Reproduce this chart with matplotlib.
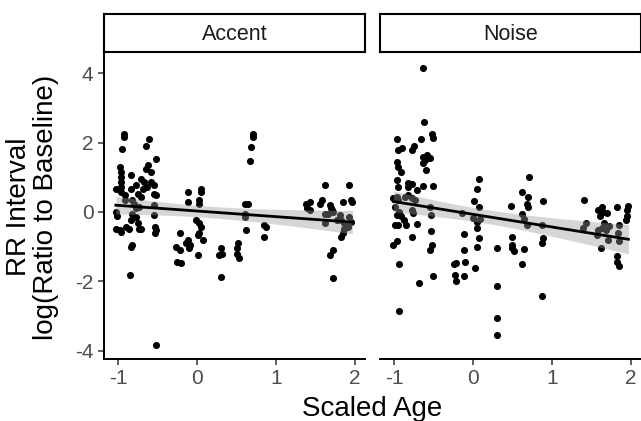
import numpy as np
import matplotlib
matplotlib.use("Agg")
from matplotlib import pyplot as plt

plt.rcParams['font.family'] = ['Liberation Sans', 'DejaVu Sans']
plt.rcParams['axes.unicode_minus'] = False

# Accent panel (scaled age, log RR ratio)
accent_x = [-0.93, -0.93, -0.95, -0.98, -0.97, -0.97, -0.97, -0.97, -0.96, -1.03,
            -1.03, -1.02, -1.03, -0.98, -0.96, -0.91, -0.91, -0.84, -0.84, -0.82,
            -0.80, -0.82, -0.84, -0.86, -0.82, -0.84, -0.85, -0.90, -0.78, -0.75,
            -0.77, -0.75, -0.73, -0.71, -0.71, -0.67, -0.69, -0.71, -0.65, -0.62,
            -0.58, -0.65, -0.61, -0.63, -0.58, -0.54, -0.52, -0.54, -0.52, -0.55,
            -0.54, -0.53, -0.52, -0.53, -0.52, -0.73, -0.77,
            -0.22, -0.27, -0.22, -0.25, -0.20, -0.11, -0.12, -0.11, -0.09, -0.14,
            -0.10, 0.01, 0.03, 0.05, 0.05, 0.02, -0.01, 0.03, 0.05, 0.03,
            0.01, 0.07, 0.30, 0.32, 0.28, 0.30, 0.52, 0.51, 0.51, 0.53,
            0.61, 0.64, 0.61, 0.61, 0.62, 0.71, 0.71, 0.69, 0.67, 0.85,
            0.88, 0.85,
            1.38, 1.43, 1.40, 1.43, 1.62, 1.59, 1.56, 1.62, 1.62, 1.68,
            1.70, 1.71, 1.72, 1.66, 1.68, 1.72, 1.72, 1.78, 1.81, 1.83,
            1.83, 1.85, 1.87, 1.85, 1.93, 1.95, 1.97, 1.93, 1.95, 1.91, 1.87]
accent_y = [2.25, 2.17, 1.82, 1.29, 1.15, 1.00, 0.86, 0.72, 0.57, 0.67,
            0.00, -0.12, -0.48, -0.53, -0.57, 0.33, 0.48, 1.05, 0.67, 0.33,
            0.24, -0.05, -0.24, -0.48, -0.96, -1.00, -1.82, -0.43, 0.77, 0.53,
            -0.14, -0.33, -0.48, -0.48, 0.96, 0.86, 0.67, 0.43, 1.24, 1.34,
            1.15, 1.91, 2.11, 0.72, 0.86, 0.77, 1.53, 0.53, 0.48, 0.19,
            -0.10, -0.43, -0.53, -0.62, -3.83, 0.14, 0.10,
            -0.62, -1.00, -1.10, -1.44, -1.48, 0.57, 0.29, -0.81, -0.96, -0.91,
            -1.05, -1.24, 0.33, 0.57, 0.67, 0.24, -0.24, -0.33, -0.43, -0.62,
            -0.67, -0.81, -1.05, -1.20, -1.24, -1.87, -0.91, -1.05, -1.20, -1.34,
            0.24, 0.24, -0.05, -0.14, -0.53, 2.25, 2.15, 1.87, 1.46, -0.38,
            -0.43, -0.72,
            0.24, 0.29, 0.10, 0.05, 0.77, 0.33, 0.24, -0.05, -0.33, 0.19,
            0.10, 0.05, 0.00, -0.05, -1.24, -1.10, -1.91, -0.24, -0.10, -0.24,
            -0.72, -0.62, -0.48, 0.29, 0.77, 0.33, 0.29, -0.14, -0.29, -0.43, -0.33]

# Noise panel
noise_x = [-0.63, -0.62, -0.52, -0.51, -0.66, -0.97, -0.95, -0.90, -0.78, -0.75,
           -0.97, -0.95, -0.92, -0.63, -0.59, -0.54, -0.61, -0.63, -0.60, -0.96,
           -0.95, -0.82, -0.78, -0.82, -0.71, -0.63, -0.51, -1.01, -0.97, -0.95,
           -0.86, -0.82, -0.78, -0.74, -0.99, -0.94, -0.97, -0.92, -0.88, -0.99,
           -0.95, -0.85, -0.78, -0.76, -0.71, -0.54, -0.53, -0.53, -0.77, -1.01,
           -0.97, -0.52, -0.54, -0.94, -0.69, -0.51, -0.94,
           -0.12, -0.14, -0.11, -0.24, -0.21, -0.23, -0.21, -0.11, -0.10, 0.02,
           0.08, 0.05, 0.01, 0.07, 0.00, 0.05, 0.09, 0.05, 0.07, 0.05,
           0.31, 0.31, 0.30, 0.30, 0.48, 0.50, 0.50, 0.49, 0.52, 0.62,
           0.70, 0.71, 0.68, 0.70, 0.62, 0.64, 0.68, 0.64, 0.62, 0.89,
           0.87, 0.89, 0.87, 0.88,
           1.41, 1.43, 1.40, 1.62, 1.59, 1.63, 1.65, 1.61, 1.70, 1.66,
           1.63, 1.72, 1.69, 1.71, 1.82, 1.85, 1.84, 1.85, 1.82, 1.83,
           1.85, 1.97, 1.95, 1.95, 1.94, 1.59, 1.57]
noise_y = [4.16, 2.59, 2.24, 2.12, 2.10, 2.09, 1.78, 1.83, 1.78, 1.90,
           1.45, 1.30, 1.16, 1.59, 1.64, 1.54, 1.49, 1.40, 1.21, 0.92,
           0.73, 0.84, 0.80, 0.73, 0.63, 0.75, 0.75, 0.39, 0.44, 0.34,
           0.44, 0.49, 0.39, 0.34, 0.15, 0.01, -0.09, -0.13, -0.23, -0.39,
           -0.37, -0.37, 0.06, -0.04, -0.34, 0.15, -0.09, -0.54, -0.71, -0.95,
           -0.85, -0.95, -1.09, -1.49, -2.05, -1.84, -2.86,
           -0.63, -0.04, -1.09, -1.51, -1.48, -1.81, -2.00, -1.84, -1.43, -1.62,
           0.95, 0.65, 0.30, 0.15, -0.18, -0.28, -0.21, -0.45, -0.76, -1.02,
           -1.04, -2.15, -3.06, -3.55, 0.17, -0.71, -0.95, -1.04, -1.14, 0.56,
           0.44, 1.00, 0.23, 0.15, -0.06, -0.21, -0.37, -1.07, -1.49, 0.30,
           -0.37, -0.76, -0.90, -2.41,
           0.33, -0.31, -0.47, -1.05, 0.06, 0.15, 0.01, -0.13, -0.04, -0.33,
           -0.47, -0.42, -0.52, -0.80, 0.15, -0.37, -0.61, -0.85, -1.28, -1.43,
           -1.57, 0.17, 0.06, -0.13, -0.23, -0.52, -0.66]

panels = [("Accent", accent_x, accent_y), ("Noise", noise_x, noise_y)]

fig = plt.figure(figsize=(6.41, 4.21), dpi=100)
W, H = 641, 421
lefts = [104, 380]
pw, top, bot = 261, 53, 359

for i, (name, xs, ys) in enumerate(panels):
    x = np.array(xs)
    y = np.array(ys)
    ax = fig.add_axes([lefts[i] / W, 1 - bot / H, pw / W, (bot - top) / H])
    ax.scatter(x, y, s=26, color='black', linewidths=0, zorder=2)

    # linear fit with 95% confidence band
    b, a = np.polyfit(x, y, 1)
    xf = np.linspace(x.min(), x.max(), 80)
    yf = a + b * xf
    n = len(x)
    resid = y - (a + b * x)
    s = np.sqrt(np.sum(resid ** 2) / (n - 2))
    se = s * np.sqrt(1 / n + (xf - x.mean()) ** 2 / np.sum((x - x.mean()) ** 2))
    ax.fill_between(xf, yf - 1.97 * se, yf + 1.97 * se, color='#999999',
                    alpha=0.4, linewidth=0, zorder=3)
    ax.plot(xf, yf, color='black', lw=2.0, zorder=4)

    ax.set_xlim(-1.18, 2.13)
    ax.set_ylim(-4.24, 4.58)
    ax.set_xticks([-1, 0, 1, 2])
    ax.set_yticks([-4, -2, 0, 2, 4])
    for sp in ['top', 'right']:
        ax.spines[sp].set_visible(False)
    ax.spines['bottom'].set_linewidth(1.4)
    ax.spines['left'].set_linewidth(1.4)
    ax.tick_params(colors='#333333', labelcolor='#4D4D4D', labelsize=15,
                   length=4.5, width=1.1, pad=3)
    if i == 1:
        ax.spines['left'].set_visible(False)
        ax.tick_params(axis='y', left=False, labelleft=False)

    # facet strip
    sax = fig.add_axes([lefts[i] / W, 1 - 52 / H, pw / W, 38 / H])
    sax.set_xticks([])
    sax.set_yticks([])
    for sp in sax.spines.values():
        sp.set_linewidth(1.5)
    sax.text(0.5, 0.47, name, ha='center', va='center', fontsize=15.5,
             color='#1A1A1A', transform=sax.transAxes)

fig.text(33 / W, 1 - 207 / H, "RR Interval\nlog(Ratio to Baseline)", rotation=90,
         ha='center', va='center', fontsize=20, linespacing=1.05)
fig.text(372 / W, 1 - 409 / H, "Scaled Age", ha='center', va='center', fontsize=20)

fig.savefig("out.png", dpi=100)
